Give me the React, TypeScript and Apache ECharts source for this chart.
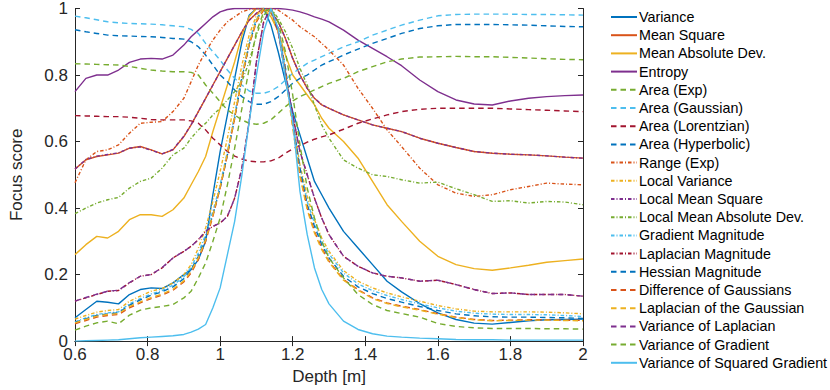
import React, { useEffect, useRef } from "react";
import * as echarts from "echarts";

const depth = [
  0.6, 0.63, 0.66, 0.69, 0.72, 0.75, 0.78, 0.81, 0.84, 0.87, 0.9,
  0.92, 0.94, 0.96, 0.98, 1.0, 1.02, 1.04, 1.06, 1.08, 1.1, 1.12, 1.14, 1.16, 1.18, 1.2, 1.22, 1.24, 1.26, 1.28, 1.3,
  1.34, 1.38, 1.42, 1.46, 1.5, 1.55, 1.6, 1.65, 1.7, 1.75, 1.8, 1.85, 1.9, 1.95, 2.0,
];

const variance = [
  0.07, 0.095, 0.12, 0.117, 0.112, 0.14, 0.155, 0.16, 0.158, 0.175, 0.2,
  0.215, 0.245, 0.3, 0.44, 0.57, 0.68, 0.79, 0.9, 0.98, 1.0, 1.0, 0.95, 0.87, 0.78, 0.69, 0.62, 0.55, 0.48, 0.44, 0.4,
  0.33, 0.28, 0.23, 0.18, 0.148, 0.113, 0.085, 0.065, 0.054, 0.051, 0.056, 0.061, 0.064, 0.065, 0.066,
];
const meanSquare = [
  0.517, 0.545, 0.555, 0.56, 0.565, 0.58, 0.585, 0.575, 0.563, 0.575, 0.615,
  0.65, 0.69, 0.73, 0.77, 0.81, 0.85, 0.89, 0.93, 0.965, 0.985, 1.0, 0.99, 0.96, 0.91, 0.85, 0.8, 0.76, 0.73, 0.71, 0.7,
  0.68, 0.665, 0.65, 0.64, 0.63, 0.61, 0.595, 0.582, 0.57, 0.565, 0.562, 0.56, 0.557, 0.553, 0.55,
];
const meanAbsDev = [
  0.26, 0.29, 0.315, 0.31, 0.33, 0.365, 0.38, 0.38, 0.375, 0.395, 0.43,
  0.47, 0.51, 0.555, 0.63, 0.7, 0.77, 0.84, 0.92, 0.975, 1.0, 0.998, 0.975, 0.93, 0.86, 0.8, 0.77, 0.74, 0.71, 0.67, 0.64,
  0.6, 0.55, 0.48, 0.41, 0.36, 0.3, 0.255, 0.23, 0.218, 0.213, 0.22, 0.228, 0.237, 0.242, 0.247,
];
const entropy = [
  0.75, 0.79, 0.8, 0.8, 0.815, 0.838, 0.848, 0.85, 0.848, 0.86, 0.89,
  0.915, 0.935, 0.955, 0.975, 0.99, 0.997, 1.0, 1.0, 1.0, 1.0, 1.0, 1.0, 1.0, 0.998, 0.995, 0.99, 0.983, 0.975, 0.968, 0.96,
  0.935, 0.905, 0.88, 0.855, 0.828, 0.785, 0.75, 0.725, 0.713, 0.71, 0.722, 0.73, 0.735, 0.738, 0.74,
];
const areaExp = [
  0.834, 0.833, 0.832, 0.831, 0.83, 0.826, 0.82, 0.815, 0.812, 0.81, 0.81,
  0.808, 0.8, 0.77, 0.745, 0.72, 0.695, 0.68, 0.665, 0.655, 0.652, 0.655, 0.665, 0.685, 0.705, 0.722, 0.735, 0.745, 0.755, 0.765, 0.775,
  0.79, 0.81, 0.825, 0.84, 0.848, 0.854, 0.855, 0.856, 0.855, 0.855, 0.853, 0.851, 0.849, 0.847, 0.846,
];
const areaGaussian = [
  0.977, 0.972, 0.966, 0.96, 0.957, 0.955, 0.954, 0.953, 0.951, 0.948, 0.945,
  0.937, 0.925, 0.895, 0.87, 0.845, 0.815, 0.79, 0.77, 0.752, 0.745, 0.745, 0.752, 0.765, 0.785, 0.805, 0.82, 0.835, 0.845, 0.855, 0.865,
  0.885, 0.9, 0.92, 0.935, 0.95, 0.965, 0.978, 0.982, 0.983, 0.983, 0.983, 0.982, 0.982, 0.981, 0.98,
];
const areaLorentzian = [
  0.678, 0.677, 0.676, 0.675, 0.675, 0.673, 0.67, 0.666, 0.665, 0.665, 0.665,
  0.662, 0.655, 0.635, 0.61, 0.59, 0.57, 0.556, 0.547, 0.541, 0.539, 0.539, 0.542, 0.55, 0.565, 0.578, 0.588, 0.598, 0.607, 0.614, 0.62,
  0.637, 0.655, 0.668, 0.68, 0.69, 0.697, 0.7, 0.7, 0.7, 0.7, 0.698, 0.696, 0.694, 0.692, 0.69,
];
const areaHyperbolic = [
  0.936, 0.93, 0.925, 0.92, 0.918, 0.917, 0.916, 0.915, 0.913, 0.91, 0.908,
  0.9, 0.885, 0.86, 0.83, 0.8, 0.78, 0.755, 0.735, 0.72, 0.712, 0.712, 0.72, 0.735, 0.755, 0.775, 0.79, 0.8, 0.815, 0.83, 0.84,
  0.86, 0.878, 0.895, 0.91, 0.925, 0.94, 0.948, 0.952, 0.952, 0.952, 0.951, 0.95, 0.948, 0.946, 0.945,
];
const rangeExp = [
  0.476, 0.545, 0.57, 0.575, 0.59, 0.625, 0.655, 0.658, 0.66, 0.69, 0.73,
  0.78, 0.83, 0.87, 0.905, 0.935, 0.96, 0.975, 0.99, 0.997, 1.0, 1.0, 1.0, 0.995, 0.98, 0.965, 0.945, 0.93, 0.915, 0.895, 0.875,
  0.83, 0.76, 0.7, 0.635, 0.585, 0.52, 0.47, 0.445, 0.435, 0.44, 0.455, 0.465, 0.475, 0.472, 0.47,
];
const localVariance = [
  0.066, 0.077, 0.087, 0.092, 0.095, 0.12, 0.135, 0.15, 0.158, 0.175, 0.2,
  0.23, 0.28, 0.34, 0.42, 0.51, 0.61, 0.72, 0.83, 0.92, 0.98, 1.0, 0.985, 0.93, 0.81, 0.66, 0.53, 0.435, 0.365, 0.31, 0.27,
  0.212, 0.18, 0.16, 0.145, 0.133, 0.12, 0.107, 0.097, 0.09, 0.088, 0.088, 0.088, 0.087, 0.085, 0.082,
];
const localMeanSquare = [
  0.517, 0.546, 0.556, 0.561, 0.566, 0.58, 0.584, 0.574, 0.563, 0.576, 0.616,
  0.651, 0.69, 0.73, 0.77, 0.81, 0.85, 0.89, 0.93, 0.965, 0.986, 1.0, 0.99, 0.96, 0.91, 0.85, 0.8, 0.76, 0.73, 0.711, 0.7,
  0.68, 0.665, 0.65, 0.64, 0.63, 0.61, 0.595, 0.582, 0.57, 0.565, 0.562, 0.56, 0.557, 0.553, 0.55,
];
const localMeanAbsDev = [
  0.383, 0.4, 0.415, 0.425, 0.432, 0.46, 0.48, 0.49, 0.52, 0.56, 0.58,
  0.61, 0.635, 0.655, 0.68, 0.7, 0.725, 0.75, 0.78, 0.84, 0.92, 0.98, 1.0, 0.97, 0.93, 0.88, 0.82, 0.77, 0.71, 0.65, 0.61,
  0.545, 0.52, 0.5, 0.495, 0.485, 0.475, 0.478, 0.458, 0.44, 0.42, 0.422, 0.415, 0.42, 0.418, 0.41,
];
const gradientMagnitude = [
  0.058, 0.07, 0.08, 0.085, 0.088, 0.112, 0.128, 0.142, 0.152, 0.168, 0.193,
  0.222, 0.265, 0.32, 0.39, 0.47, 0.57, 0.68, 0.8, 0.9, 0.97, 1.0, 0.99, 0.94, 0.82, 0.66, 0.52, 0.42, 0.355, 0.3, 0.262,
  0.205, 0.172, 0.152, 0.137, 0.125, 0.112, 0.1, 0.09, 0.084, 0.081, 0.08, 0.08, 0.079, 0.077, 0.074,
];
const laplacianMagnitude = [
  0.12, 0.13, 0.14, 0.15, 0.152, 0.175, 0.195, 0.2, 0.22, 0.25, 0.27,
  0.285, 0.305, 0.33, 0.345, 0.355, 0.375, 0.43, 0.52, 0.66, 0.84, 0.96, 1.0, 0.93, 0.8, 0.68, 0.57, 0.5, 0.43, 0.37, 0.32,
  0.255, 0.225, 0.205, 0.195, 0.19, 0.18, 0.183, 0.17, 0.155, 0.143, 0.145, 0.14, 0.14, 0.14, 0.135,
];
const hessianMagnitude = [
  0.056, 0.067, 0.077, 0.082, 0.085, 0.108, 0.124, 0.138, 0.148, 0.163, 0.188,
  0.215, 0.255, 0.31, 0.38, 0.46, 0.56, 0.67, 0.79, 0.89, 0.965, 1.0, 0.99, 0.94, 0.82, 0.66, 0.52, 0.41, 0.345, 0.29, 0.25,
  0.195, 0.163, 0.143, 0.128, 0.117, 0.104, 0.092, 0.082, 0.076, 0.073, 0.072, 0.072, 0.071, 0.07, 0.068,
];
const diffGaussians = [
  0.052, 0.062, 0.072, 0.077, 0.08, 0.1, 0.115, 0.128, 0.138, 0.153, 0.178,
  0.205, 0.245, 0.3, 0.375, 0.46, 0.56, 0.67, 0.79, 0.89, 0.96, 0.995, 0.99, 0.94, 0.81, 0.65, 0.5, 0.4, 0.33, 0.28, 0.24,
  0.185, 0.155, 0.13, 0.115, 0.105, 0.095, 0.082, 0.072, 0.065, 0.062, 0.063, 0.064, 0.064, 0.063, 0.062,
];
const laplacianOfGaussian = [
  0.055, 0.065, 0.075, 0.08, 0.083, 0.104, 0.118, 0.131, 0.141, 0.156, 0.181,
  0.21, 0.25, 0.305, 0.38, 0.465, 0.565, 0.675, 0.795, 0.895, 0.965, 1.0, 0.99, 0.935, 0.8, 0.64, 0.495, 0.395, 0.325, 0.275, 0.237,
  0.183, 0.153, 0.128, 0.113, 0.103, 0.093, 0.081, 0.071, 0.064, 0.061, 0.062, 0.063, 0.063, 0.062, 0.061,
];
const varianceOfLaplacian = [
  0.12, 0.131, 0.141, 0.15, 0.153, 0.176, 0.195, 0.2, 0.221, 0.25, 0.27,
  0.285, 0.305, 0.33, 0.345, 0.355, 0.375, 0.43, 0.52, 0.66, 0.84, 0.96, 1.0, 0.93, 0.8, 0.68, 0.57, 0.5, 0.43, 0.37, 0.32,
  0.255, 0.225, 0.205, 0.195, 0.19, 0.18, 0.183, 0.17, 0.155, 0.143, 0.145, 0.14, 0.14, 0.14, 0.135,
];
const varianceOfGradient = [
  0.033, 0.045, 0.055, 0.06, 0.052, 0.078, 0.093, 0.1, 0.104, 0.11, 0.13,
  0.15, 0.19, 0.235, 0.3, 0.37, 0.47, 0.58, 0.7, 0.82, 0.93, 0.99, 1.0, 0.96, 0.87, 0.74, 0.59, 0.46, 0.37, 0.3, 0.25,
  0.19, 0.14, 0.11, 0.092, 0.083, 0.072, 0.053, 0.044, 0.04, 0.038, 0.038, 0.038, 0.037, 0.037, 0.036,
];
const varianceOfSquaredGradient = [
  0.0, 0.001, 0.002, 0.003, 0.004, 0.007, 0.01, 0.012, 0.014, 0.016, 0.02,
  0.027, 0.036, 0.05, 0.1, 0.16, 0.26, 0.36, 0.5, 0.66, 0.8, 0.93, 1.0, 0.94, 0.79, 0.66, 0.45, 0.32, 0.22, 0.155, 0.112,
  0.06, 0.035, 0.022, 0.015, 0.012, 0.009, 0.007, 0.005, 0.004, 0.004, 0.003, 0.003, 0.003, 0.003, 0.003,
];

const xTicks = [0.6, 0.8, 1, 1.2, 1.4, 1.6, 1.8, 2];
const yTicks = [0, 0.2, 0.4, 0.6, 0.8, 1];

const BLUE = "#0072BD";
const ORANGE = "#D95319";
const YELLOW = "#EDB120";
const PURPLE = "#7E2F8E";
const GREEN = "#77AC30";
const LIGHTBLUE = "#4DBEEE";
const DARKRED = "#A2142F";

const SOLID = "solid";
const DASHED = [5.5, 4];
const DASHDOT = [3.5, 2, 1, 2];

const seriesDefs: [string, number[], string, any][] = [
  ["Variance", variance, BLUE, SOLID],
  ["Mean Square", meanSquare, ORANGE, SOLID],
  ["Mean Absolute Dev.", meanAbsDev, YELLOW, SOLID],
  ["Entropy", entropy, PURPLE, SOLID],
  ["Area (Exp)", areaExp, GREEN, DASHED],
  ["Area (Gaussian)", areaGaussian, LIGHTBLUE, DASHED],
  ["Area (Lorentzian)", areaLorentzian, DARKRED, DASHED],
  ["Area (Hyperbolic)", areaHyperbolic, BLUE, DASHED],
  ["Range (Exp)", rangeExp, ORANGE, DASHDOT],
  ["Local Variance", localVariance, YELLOW, DASHDOT],
  ["Local Mean Square", localMeanSquare, PURPLE, DASHDOT],
  ["Local Mean Absolute Dev.", localMeanAbsDev, GREEN, DASHDOT],
  ["Gradient Magnitude", gradientMagnitude, LIGHTBLUE, DASHDOT],
  ["Laplacian Magnitude", laplacianMagnitude, DARKRED, DASHDOT],
  ["Hessian Magnitude", hessianMagnitude, BLUE, DASHED],
  ["Difference of Gaussians", diffGaussians, ORANGE, DASHED],
  ["Laplacian of the Gaussian", laplacianOfGaussian, YELLOW, DASHED],
  ["Variance of Laplacian", varianceOfLaplacian, PURPLE, DASHED],
  ["Variance of Gradient", varianceOfGradient, GREEN, DASHED],
  ["Variance of Squared Gradient", varianceOfSquaredGradient, LIGHTBLUE, SOLID],
];

const FONT = "'Liberation Sans', Arial, Helvetica, sans-serif";
const AXIS_COLOR = "#262626";

export default function App() {
  const ref = useRef<HTMLDivElement>(null);
  useEffect(() => {
    if (!ref.current) return;
    const chart = echarts.init(ref.current, undefined, { renderer: "svg" });
    const axisCommon = {
      axisLine: { show: true, lineStyle: { color: AXIS_COLOR, width: 1 } },
      axisTick: { show: true, inside: true, length: 5, lineStyle: { color: AXIS_COLOR } },
      splitLine: { show: false },
    };
    chart.setOption({
      animation: false,
      backgroundColor: "#ffffff",
      textStyle: { fontFamily: FONT },
      grid: { left: 52, right: 247, top: 6, bottom: 48, containLabel: false },
      legend: {
        orient: "vertical",
        left: 605,
        top: 5,
        itemWidth: 26,
        itemHeight: 14,
        itemGap: 4.2,
        selectedMode: false,
        itemStyle: { opacity: 0, borderWidth: 0 },
        textStyle: { fontSize: 14.3, color: "#000", fontFamily: FONT, padding: [0, 0, 0, -3] },
        data: seriesDefs.map((d) => d[0]),
      },
      xAxis: [
        {
          ...axisCommon,
          type: "value",
          min: xTicks[0],
          max: xTicks[xTicks.length - 1],
          interval: 0.2,
          position: "bottom",
          name: "Depth [m]",
          nameLocation: "middle",
          nameGap: 26,
          nameTextStyle: { fontSize: 17, color: AXIS_COLOR, fontFamily: FONT },
          axisLabel: {
            show: true,
            fontSize: 17,
            color: AXIS_COLOR,
            margin: 5,
            fontFamily: FONT,
            formatter: (v: number) => String(parseFloat(v.toFixed(2))),
          },
        },
        {
          ...axisCommon,
          type: "value",
          min: xTicks[0],
          max: xTicks[xTicks.length - 1],
          interval: 0.2,
          position: "top",
          axisLabel: { show: false },
        },
      ],
      yAxis: [
        {
          ...axisCommon,
          type: "value",
          min: yTicks[0],
          max: yTicks[yTicks.length - 1],
          interval: 0.2,
          position: "left",
          name: "Focus score",
          nameLocation: "middle",
          nameGap: 50,
          nameTextStyle: { fontSize: 17, color: AXIS_COLOR, fontFamily: FONT },
          axisLabel: {
            show: true,
            fontSize: 17,
            color: AXIS_COLOR,
            margin: 7,
            fontFamily: FONT,
            formatter: (v: number) => String(parseFloat(v.toFixed(2))),
          },
        },
        {
          ...axisCommon,
          type: "value",
          min: yTicks[0],
          max: yTicks[yTicks.length - 1],
          interval: 0.2,
          position: "right",
          axisLabel: { show: false },
        },
      ],
      series: seriesDefs.map(([name, vals, color, type]) => ({
        name,
        type: "line",
        xAxisIndex: 0,
        yAxisIndex: 0,
        symbol: "none",
        showSymbol: false,
        clip: true,
        color,
        lineStyle: { color, width: 1.4, type },
        itemStyle: { color },
        emphasis: { disabled: true },
        data: depth.map((x, i) => [x, vals[i]]),
      })),
    });
    return () => chart.dispose();
  }, []);
  return (
    <div
      ref={ref}
      style={{ position: "fixed", left: 0, top: 0, width: 830, height: 390, background: "#fff" }}
    />
  );
}
